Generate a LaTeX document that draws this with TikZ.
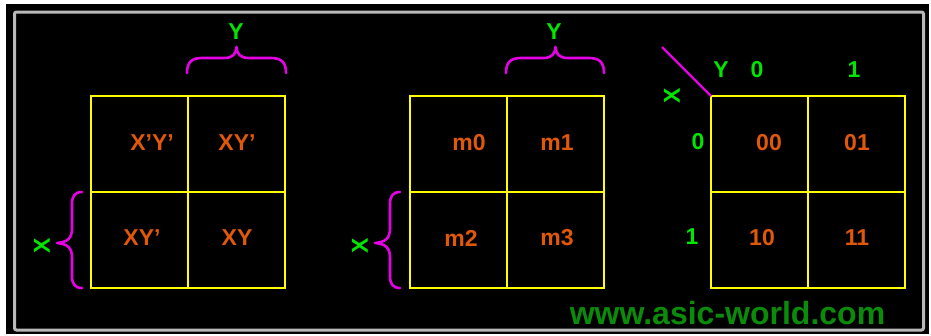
\documentclass[tikz,border=0pt]{standalone}
\usepackage{fontspec}
\setmainfont{Liberation Sans}
\begin{document}
\begin{tikzpicture}[x=1pt,y=-1pt,
  cellbox/.style={draw=kyellow,line width=2.4pt,minimum width=97pt,minimum height=96pt,inner sep=0pt,outer sep=0pt},
  celltext/.style={text=korange,font=\bfseries\fontsize{23}{23}\selectfont,inner sep=0pt},
  axislabel/.style={text=kgreen,font=\bfseries\fontsize{23}{23}\selectfont,inner sep=0pt},
  bracepath/.style={draw=kmagenta,line width=2.6pt,line cap=round,line join=round}]
\definecolor{kyellow}{RGB}{255,255,0}
\definecolor{korange}{RGB}{225,88,10}
\definecolor{kgreen}{RGB}{0,230,0}
\definecolor{kmagenta}{RGB}{230,0,230}
\definecolor{kweb}{RGB}{10,140,10}
\definecolor{kframe}{RGB}{185,185,185}
\useasboundingbox (0,0) rectangle (931,335);
\fill[white] (0,0) rectangle (931,335);
\fill[black] (6,4) rectangle (929,334);
\draw[kframe,line width=3pt,rounded corners=2pt] (14.5,12) rectangle (923.5,330);

% ---- map 1: product terms ----
\node[cellbox] (a00) at (139.5,144) {};
\node[cellbox] (a01) at (236.5,144) {};
\node[cellbox] (a10) at (139.5,240) {};
\node[cellbox] (a11) at (236.5,240) {};
\node[celltext] (ta00) at (152,143) {X’Y’};
\node[celltext] (ta01) at (237,143) {XY’};
\node[celltext] (ta10) at (142,238) {XY’};
\node[celltext] (ta11) at (237,238) {XY};
\node[axislabel] (ya) at (236,32) {Y};
\node[axislabel,rotate=90] (xa) at (42,246) {X};
\draw[bracepath] (187,73) .. controls (187,62) and (192,58) .. (202,58) -- (224,58)
  .. controls (233,58) and (236,54) .. (236.5,47)
  .. controls (237,54) and (240,58) .. (249,58) -- (271,58)
  .. controls (281,58) and (286,62) .. (286,73);
\draw[bracepath] (82,192) .. controls (75,192) and (72,196) .. (72,204) -- (72,228)
  .. controls (72,238) and (68,242) .. (57,243)
  .. controls (68,244) and (72,248) .. (72,258) -- (72,276)
  .. controls (72,284) and (75,288) .. (82,288);

% ---- map 2: minterm numbers ----
\node[cellbox] (b00) at (458.5,144) {};
\node[cellbox] (b01) at (555.5,144) {};
\node[cellbox] (b10) at (458.5,240) {};
\node[cellbox] (b11) at (555.5,240) {};
\node[celltext] (tb00) at (469,143) {m0};
\node[celltext] (tb01) at (557,143) {m1};
\node[celltext] (tb10) at (461,238) {m2};
\node[celltext] (tb11) at (557,238) {m3};
\node[axislabel] (yb) at (554,32) {Y};
\node[axislabel,rotate=90] (xb) at (360,246) {X};
\draw[bracepath] (506,73) .. controls (506,62) and (511,58) .. (521,58) -- (543,58)
  .. controls (552,58) and (555,54) .. (555.5,47)
  .. controls (556,54) and (559,58) .. (568,58) -- (589,58)
  .. controls (599,58) and (604,62) .. (604,73);
\draw[bracepath] (400,192) .. controls (393,192) and (390,196) .. (390,204) -- (390,228)
  .. controls (390,238) and (386,242) .. (375,243)
  .. controls (386,244) and (390,248) .. (390,258) -- (390,276)
  .. controls (390,284) and (393,288) .. (400,288);

% ---- map 3: variable values ----
\node[cellbox] (c00) at (759.5,144) {};
\node[cellbox] (c01) at (856.5,144) {};
\node[cellbox] (c10) at (759.5,240) {};
\node[cellbox] (c11) at (856.5,240) {};
\node[celltext] (tc00) at (769,143) {00};
\node[celltext] (tc01) at (857,143) {01};
\node[celltext] (tc10) at (762,238) {10};
\node[celltext] (tc11) at (857,238) {11};
\node[axislabel] (yc) at (721,70) {Y};
\node[axislabel] (yc0) at (757,70) {0};
\node[axislabel] (yc1) at (854,70) {1};
\node[axislabel,rotate=90] (xc) at (672,96) {X};
\node[axislabel] (xc0) at (698,142) {0};
\node[axislabel] (xc1) at (692,237) {1};
\coordinate (diag) at (662,47);
\draw[kmagenta,line width=2.4pt] (diag) -- (c00.north west);

\node[text=kweb,font=\bfseries\fontsize{32}{32}\selectfont,inner sep=0pt] (web) at (727.5,313) {www.asic-world.com};
\end{tikzpicture}
\end{document}
